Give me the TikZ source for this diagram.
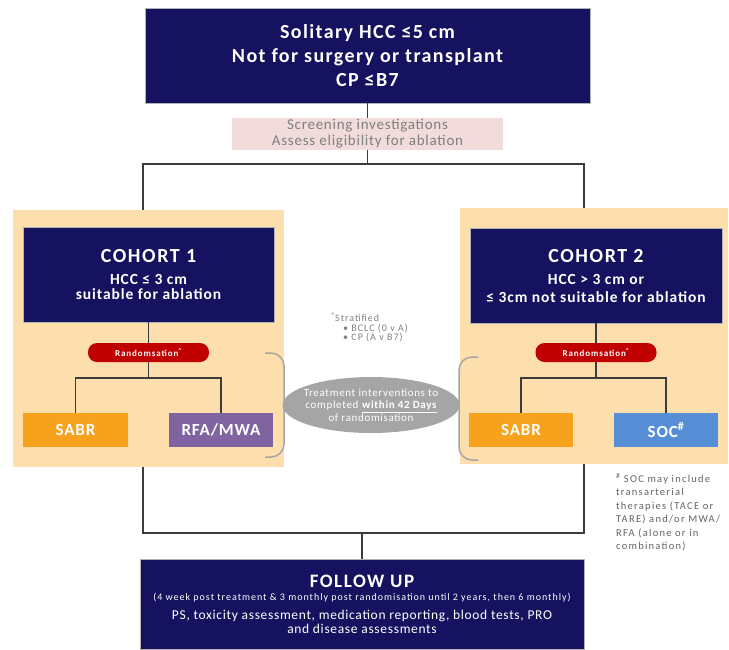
\documentclass[tikz,border=0pt]{standalone}
\usepackage{fontspec}
\setmainfont{Carlito}
\usetikzlibrary{positioning, calc, shapes.geometric}
\definecolor{navy}{HTML}{15125F}
\definecolor{cream}{HTML}{FDDFAE}
\definecolor{blush}{HTML}{F2DCDB}
\definecolor{pillred}{HTML}{C00000}
\definecolor{armorange}{HTML}{F6A21C}
\definecolor{armpurple}{HTML}{8064A2}
\definecolor{armblue}{HTML}{558ED5}
\definecolor{oval}{HTML}{A5A5A5}
\definecolor{edge}{HTML}{3C3C3C}
\definecolor{brkgray}{HTML}{A6A6A6}
\definecolor{txtgray}{HTML}{7F7F7F}
\newcommand{\fs}[3]{\fontsize{#1}{#2}\selectfont\addfontfeature{LetterSpace=#3}}
\tikzset{
  n/.style={align=center, inner sep=0pt, text=white},
  nb/.style={n, fill=navy, draw=gray!60, line width=0.5pt},
  pan/.style={fill=cream, inner sep=0pt},
  pill/.style={n, fill=pillred, rounded corners=9pt, font=\bfseries\fs{9}{10}{10}, minimum width=121pt, minimum height=19pt},
  arm/.style={n, minimum width=105pt, minimum height=34pt, font=\bfseries\fs{17}{18}{5}},
  a/.style={draw=edge, line width=1.5pt},
  brk/.style={draw=brkgray, line width=1.5pt, rounded corners=13pt},
  lbl/.style={align=left, inner sep=0pt, text=txtgray},
}
\begin{document}
\begin{tikzpicture}[x=1pt, y=-1pt]
\useasboundingbox (0,0) rectangle (729,649);
\node[nb, minimum width=445pt, minimum height=95pt, font=\bfseries\fs{20}{24}{7}] (top) at (367.5,55.5) {Solitary HCC ≤5 cm\\Not for surgery or transplant\\CP ≤B7};
\node[n, fill=blush, text=txtgray, minimum width=271pt, minimum height=32pt, font=\fs{15}{16}{5}] (scr) at (367.5,134) {Screening investigations\\Assess eligibility for ablation};
\node[pan, minimum width=271pt, minimum height=257pt] (pl) at (148.5,338.5) {};
\node[pan, minimum width=268pt, minimum height=256pt] (pr) at (594,336) {};
\node[nb, minimum width=251pt, minimum height=95pt, font=\bfseries\fs{15.5}{15.5}{6}] (c1) at (148.5,274.5) {{\fs{20}{22}{8}COHORT 1}\\[6pt]HCC ≤ 3 cm\\suitable for ablation};
\node[nb, minimum width=252pt, minimum height=95pt, font=\bfseries\fs{15.5}{17.5}{6}] (c2) at (596,275.5) {{\fs{20}{22}{8}COHORT 2}\\[5pt]HCC > 3 cm or\\≤ 3cm not suitable for ablation};
\node[pill] (r1) at (148.5,352.5) {Randomsation\textsuperscript{\^{}}};
\node[pill] (r2) at (596,352.5) {Randomsation\textsuperscript{\^{}}};
\node[arm, fill=armorange] (sa1) at (75.5,430) {SABR};
\node[arm, fill=armpurple, minimum width=104pt] (rfa) at (221,430) {RFA/MWA};
\node[arm, fill=armorange, minimum width=104pt] (sa2) at (521,430) {SABR};
\node[arm, fill=armblue, minimum width=104pt] (soc) at (666,430) {SOC\textsuperscript{\#}};
\node[ellipse, fill=oval, text=white, inner xsep=-8pt, inner ysep=1pt, minimum width=177pt, minimum height=56pt, align=center, font=\fs{11}{12.5}{6}] (tx) at (371,405) {Treatment interventions to\\completed \textbf{\underline{within 42 Days}}\\of randomisation};
\node[lbl, anchor=north west, font=\fs{10}{9.5}{10}] (st) at (331,313) {\textsuperscript{\^{}}Stratified\\\hspace*{12pt}• BCLC (0 v A)\\\hspace*{12pt}• CP (A v B7)};
\node[lbl, anchor=north west, text=edge!80, font=\fs{10.5}{13.5}{12}] (nt) at (616,473) {\textsuperscript{\#} SOC may include\\transarterial\\therapies (TACE or\\TARE) and/or MWA/\\RFA (alone or in\\combination)};
\node[nb, minimum width=444pt, minimum height=90pt, font=\fs{13.5}{14}{5}] (fu) at (362,604) {{\bfseries\fs{19}{20}{8}FOLLOW UP}\\[-1pt]{\fs{10}{11}{10}(4 week post treatment \& 3 monthly post randomisation until 2 years, then 6 monthly)}\\[5pt]PS, toxicity assessment, medication reporting, blood tests, PRO\\and disease assessments};

\draw[a] (top) -- (scr);
\draw[a] (scr.south) -- ++(0,14) coordinate (sp);
\draw[a] ([xshift=-5.5pt]pl.north) |- (sp) -| ([xshift=-10pt]pr.north);
\draw[a] (c1) -- (r1);
\draw[a] (r1.south) -- ++(0,16) coordinate (b1);
\draw[a] (sa1.north) |- (b1) -| (rfa.north);
\draw[a] (c2) -- (r2);
\draw[a] (r2.south) -- ++(0,16) coordinate (b2);
\draw[a] (sa2.north) |- (b2) -| (soc.north);
\coordinate (mg) at (362,533);
\draw[a] ([xshift=-5.5pt]pl.south) |- (mg) -| ([xshift=-10pt]pr.south);
\draw[a] (mg) -- (fu);
\draw[brk] (265,353) -- (284,353) -- (284,457) -- (265,457);
\draw[brk] (478,357) -- (459,357) -- (459,460) -- (478,460);
\end{tikzpicture}
\end{document}
